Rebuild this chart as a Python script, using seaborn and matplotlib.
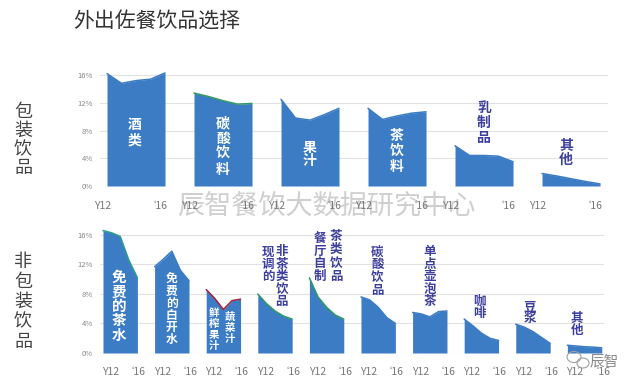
import pandas as pd
import matplotlib
matplotlib.use('Agg')
import matplotlib.pyplot as plt
import seaborn as sns
from matplotlib.patches import Ellipse

# values, % share per year 2012..2016
pack_names = ['酒类', '碳酸饮料', '果汁', '茶饮料', '乳制品', '其他']
pack_values = [
    [16.2, 14.8, 15.2, 15.4, 16.3],
    [13.4, 12.9, 12.3, 11.8, 11.9],
    [12.5, 9.8, 9.5, 10.3, 11.2],
    [11.2, 9.6, 10.1, 10.5, 10.7],
    [5.8, 4.4, 4.4, 4.3, 3.5],
    [1.8, 1.45, 1.05, 0.65, 0.3],
]
pack_labels = [['酒类'], ['碳酸饮料'], ['果汁'], ['茶饮料'], ['乳制品'], ['其他']]

nonpack_names = ['免费的茶水', '免费的白开水', '鲜榨果汁蔬菜汁', '现调的非茶类饮品',
                 '餐厅自制茶类饮品', '碳酸饮品', '单点壶泡茶', '咖啡', '豆浆', '其他']
nonpack_values = [
    [16.6, 16.3, 15.8, 12.6, 10.2],
    [11.7, 12.7, 13.8, 11.2, 9.8],
    [8.6, 7.4, 5.9, 7.1, 7.3],
    [8.0, 6.7, 5.7, 5.0, 4.6],
    [10.2, 7.6, 6.2, 5.15, 4.6],
    [7.6, 7.2, 6.2, 4.8, 4.0],
    [5.5, 5.3, 4.9, 5.6, 5.7],
    [4.6, 3.7, 2.7, 2.0, 1.7],
    [3.9, 3.5, 2.9, 2.1, 1.3],
    [1.05, 0.95, 0.85, 0.8, 0.7],
]
nonpack_labels = [['免费的茶水'], ['免费的白开水'], ['鲜榨果汁', '蔬菜汁'], ['现调的', '非茶类饮品'],
                  ['餐厅自制', '茶类饮品'], ['碳酸饮品'], ['单点壶泡茶'], ['咖啡'], ['豆浆'], ['其他']]

year_labels = ['Y12', '\u201816']
pct_ticks = [0, 4, 8, 12, 16]

FILL = '#3b7cc4'
INK = '#3c3f9c'
GREEN = '#2f9a62'

sns.set_style('white')
plt.rcParams['font.family'] = ['Noto Sans CJK SC', 'DejaVu Sans']

fig = plt.figure(figsize=(6.4, 3.89), dpi=100)
ax_top = fig.add_axes([100 / 640, 0.52185, 508 / 640, 0.3031])
ax_bot = fig.add_axes([100 / 640, 0.09254, 504 / 640, 0.3224])


def draw_panel(ax, names, values, edge_cols):
    rows = []
    for i, (n, vals) in enumerate(zip(names, values)):
        for j, v in enumerate(vals):
            rows.append({'group': n, 'x': i * 6 + j, 'value': v})
    df = pd.DataFrame(rows)
    for n, g in df.groupby('group', sort=False):
        ax.fill_between(g['x'], 0, g['value'], color=FILL, lw=0, zorder=2)
    sns.lineplot(data=df, x='x', y='value', hue='group', palette=dict(zip(names, edge_cols)),
                 legend=False, lw=1.1, ax=ax, zorder=3)
    ax.set_xlabel('')
    ax.set_ylabel('')
    ax.set_ylim(0, 17)
    ax.set_yticks(pct_ticks)
    ax.set_yticklabels([f'{t}%' for t in pct_ticks], fontsize=5.5, color='#888888')
    ax.yaxis.grid(True, color='#e2e2e2', lw=0.8)
    ax.set_axisbelow(True)
    ax.tick_params(length=0)
    ax.tick_params(axis='y', pad=5)
    ax.patch.set_alpha(0)
    sns.despine(ax=ax, left=True, bottom=True)


def vlabel(ax, x, y, text, fs, step_px, color):
    for k, ch in enumerate(text):
        ax.annotate(ch, xy=(x, y), xycoords='data', xytext=(0, -k * step_px * 0.72),
                    textcoords='offset points', ha='center', va='center',
                    fontsize=fs, fontweight='bold', color=color, zorder=5)


# packaged drinks
draw_panel(ax_top, pack_names, pack_values,
           [FILL, GREEN, FILL, FILL, FILL, FILL])
ax_top.set_xlim(-0.483, 34.55)
top_ticks, top_ticklabels = [], []
for i in range(len(pack_names)):
    top_ticks += [i * 6 - 0.3, i * 6 + 4 - 0.6]
    top_ticklabels += year_labels
ax_top.set_xticks(top_ticks)
ax_top.set_xticklabels(top_ticklabels, fontsize=7.5, color='#777777')
ax_top.tick_params(axis='x', pad=11)

# (dx from group centre, first char y, fontsize, step px, colour)
top_place = [
    [(-0.1, 8.8, 10, 16, 'white')],
    [(0, 9.1, 10, 15.6, 'white')],
    [(0, 5.5, 10, 13.5, 'white')],
    [(0, 7.2, 10, 15.3, 'white')],
    [(0, 11.2, 10, 15, INK)],
    [(-0.34, 5.9, 10, 15, INK)],
]
for i, (cols, places) in enumerate(zip(pack_labels, top_place)):
    for txt, (dx, y, fs, st, c) in zip(cols, places):
        vlabel(ax_top, i * 6 + 2 + dx, y, txt, fs, st, c)

# non-packaged drinks
draw_panel(ax_bot, nonpack_names, nonpack_values,
           ['#2aa08a', FILL, '#a3243b', GREEN, GREEN, FILL, FILL, FILL, FILL, FILL])
ax_bot.set_xlim(-0.349, 58.26)
bot_ticks, bot_ticklabels = [], []
for i in range(len(nonpack_names)):
    bot_ticks += [i * 6 + 0.9, i * 6 + 4 - 0.3]
    bot_ticklabels += year_labels
ax_bot.set_xticks(bot_ticks)
ax_bot.set_xticklabels(bot_ticklabels, fontsize=7.5, color='#777777')
ax_bot.tick_params(axis='x', pad=10)

bot_place = [
    [(-0.15, 10.3, 10.5, 14.4, 'white')],
    [(0, 10.0, 8.5, 12, 'white')],
    [(-1.1, 5.45, 7.5, 11, 'white'), (0.8, 4.9, 7.5, 11, 'white')],
    [(-0.8, 13.7, 9, 12.4, INK), (0.8, 13.7, 9, 12.4, INK)],
    [(-0.8, 15.55, 9, 12.8, INK), (1.1, 15.8, 9, 13.4, INK)],
    [(-0.1, 13.7, 9, 12.8, INK)],
    [(0, 13.7, 9, 12.5, INK)],
    [(-0.2, 6.95, 9, 11.7, INK)],
    [(-0.4, 6.2, 9, 11.5, INK)],
    [(-0.85, 4.7, 9, 11.7, INK)],
]
for i, (cols, places) in enumerate(zip(nonpack_labels, bot_place)):
    for txt, (dx, y, fs, st, c) in zip(cols, places):
        vlabel(ax_bot, i * 6 + 2 + dx, y, txt, fs, st, c)

# titles and side labels
fig.text(73 / 640, 1 - 22 / 389, '外出佐餐饮品选择', fontsize=15, color='#333333',
         fontweight='light', ha='left', va='center')
for k, ch in enumerate('包装饮品'):
    fig.text(23 / 640, 1 - (111.7 + k * 18.7) / 389, ch, fontsize=13, color='#444444',
             ha='center', va='center')
for k, ch in enumerate('非包装饮品'):
    fig.text(23 / 640, 1 - (261.7 + k * 20) / 389, ch, fontsize=13, color='#444444',
             ha='center', va='center')

# watermark and logo
fig.text(326 / 640, 1 - 206 / 389, '辰智餐饮大数据研究中心', fontsize=19.5, color='#cfcfcf',
         ha='center', va='center', zorder=-1)
fig.text(604 / 640, 1 - 362 / 389, '辰智', fontsize=10.5, color='#8a8a8a',
         ha='center', va='center')
fig.patches.append(Ellipse((574 / 640, 1 - 357 / 389), 14 / 640, 11 / 389, fill=False,
                           ec='#a0a0a0', lw=0.8, transform=fig.transFigure))
fig.patches.append(Ellipse((583 / 640, 1 - 363 / 389), 12 / 640, 10 / 389, fill=False,
                           ec='#a0a0a0', lw=0.8, transform=fig.transFigure))

fig.savefig('out.png', dpi=100)
